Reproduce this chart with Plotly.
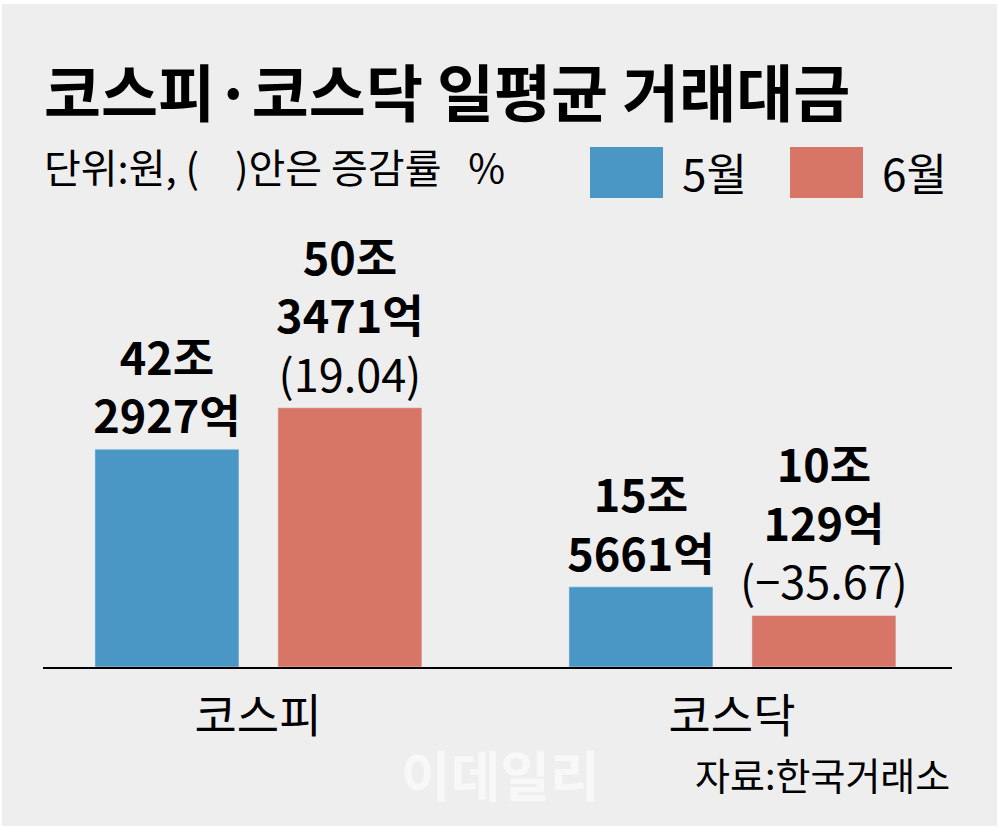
import plotly.graph_objects as go

# ---- data ----
categories = ["코스피", "코스닥"]
may_values_eok = [422927, 155661]      # 5월, 억원
june_values_eok = [503471, 100129]     # 6월, 억원
june_change_pct = [19.04, -35.67]      # 증감률 %
series_names = ["5월", "6월"]

title_text = "코스피·코스닥 일평균 거래대금"
subtitle_text = "단위:원, (    )안은 증감률   %"
source_text = "자료:한국거래소"
watermark_text = "이데일리"

BLUE = "#4a96c4"
RED = "#d77566"
BG = "#eeeeee"
FONT = "Noto Sans CJK KR"

W, H = 1000, 832
L, R, T, B = 43, 48, 210, 165
PW, PH = W - L - R, H - T - B


def px(x):
    return (x - L) / PW


def py(y):
    return (H - B - y) / PH


def label(v, pct=None):
    s = f"<b>{v // 10000}조<br>{v % 10000}억</b>"
    if pct is not None:
        sign = "−" if pct < 0 else ""
        s += f"<br>({sign}{abs(pct):.2f})"
    return s


may_y = [v / 10000 for v in may_values_eok]
june_y = [v / 10000 for v in june_values_eok]
may_text = [label(v) for v in may_values_eok]
june_text = [label(v, p) for v, p in zip(june_values_eok, june_change_pct)]

bar_w = 144 / 474
fig = go.Figure()
fig.add_trace(go.Bar(
    x=categories, y=may_y, name=series_names[0], marker_color=BLUE,
    width=bar_w, offset=-0.344, text=may_text, textposition="outside",
    textfont=dict(family=FONT, size=45, color="black"),
    constraintext="none", cliponaxis=False, hoverinfo="skip",
))
fig.add_trace(go.Bar(
    x=categories, y=june_y, name=series_names[1], marker_color=RED,
    width=bar_w, offset=0.042, text=june_text, textposition="outside",
    textfont=dict(family=FONT, size=45, color="black"),
    constraintext="none", cliponaxis=False, hoverinfo="skip",
))

k = 5.15  # px per 조
fig.update_yaxes(range=[0, PH / k], visible=False, showgrid=False, zeroline=False)
fig.update_xaxes(
    range=[-(258 - L) / 474, 1 + (W - R - 732) / 474],
    showline=True, linecolor="black", linewidth=2,
    ticks="outside", ticklen=8, tickcolor="rgba(0,0,0,0)",
    tickfont=dict(family=FONT, size=46, color="black"),
    showgrid=False, zeroline=False,
)

shapes = [
    dict(type="rect", xref="paper", yref="paper",
         x0=px(2), x1=px(997), y0=py(826), y1=py(4),
         fillcolor=BG, line_width=0, layer="below"),
    dict(type="rect", xref="paper", yref="paper",
         x0=px(590), x1=px(663), y0=py(198), y1=py(147),
         fillcolor=BLUE, line_width=0),
    dict(type="rect", xref="paper", yref="paper",
         x0=px(790), x1=px(863), y0=py(198), y1=py(147),
         fillcolor=RED, line_width=0),
]

annotations = [
    dict(text=f"<b>{title_text}</b>", x=px(42), y=py(90), xanchor="left", yanchor="middle",
         font=dict(family=FONT, size=62, color="black")),
    dict(text=subtitle_text, x=px(42), y=py(166), xanchor="left", yanchor="middle",
         font=dict(family=FONT, size=40, color="black")),
    dict(text=series_names[0], x=px(680), y=py(172), xanchor="left", yanchor="middle",
         font=dict(family=FONT, size=44, color="black")),
    dict(text=series_names[1], x=px(880), y=py(172), xanchor="left", yanchor="middle",
         font=dict(family=FONT, size=44, color="black")),
    dict(text=f"<b>{watermark_text}</b>", x=px(500), y=py(773), xanchor="center", yanchor="middle",
         font=dict(family=FONT, size=54, color="#f8f8f8")),
    dict(text=source_text, x=px(952), y=py(773), xanchor="right", yanchor="middle",
         font=dict(family=FONT, size=38, color="black")),
]
for a in annotations:
    a.update(xref="paper", yref="paper", showarrow=False)

fig.update_layout(
    width=W, height=H,
    margin=dict(l=L, r=R, t=T, b=B, pad=0),
    paper_bgcolor="white", plot_bgcolor=BG,
    showlegend=False, barmode="overlay",
    shapes=shapes, annotations=annotations,
    font=dict(family=FONT),
)

fig.write_html("out.html")
